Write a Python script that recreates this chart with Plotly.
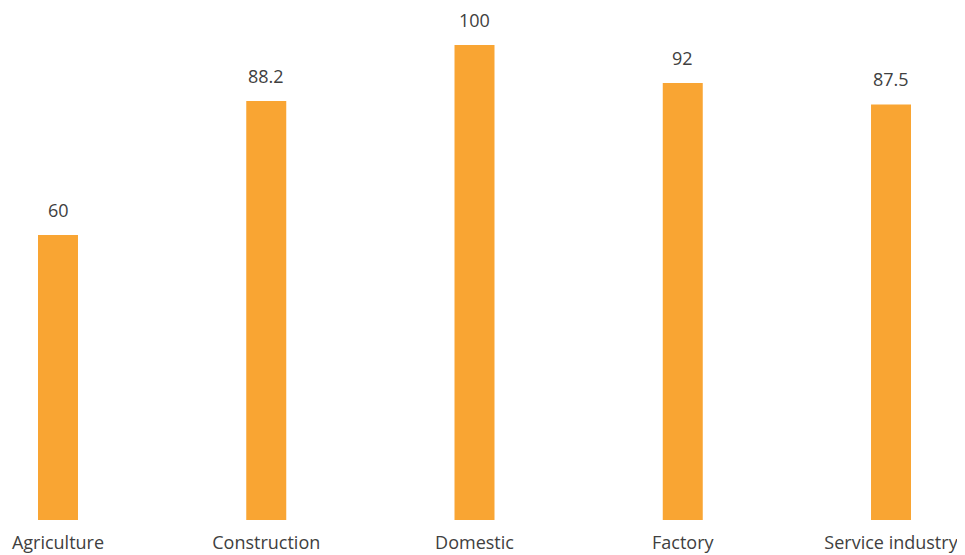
import plotly.graph_objects as go

categories = ["Agriculture", "Construction", "Domestic", "Factory", "Service industry"]
values = [60, 88.2, 100, 92, 87.5]
value_labels = ["60", "88.2", "100", "92", "87.5"]

BAR_COLOR = "#F9A533"
TEXT_COLOR = "#404040"
FONT = "Open Sans"

fig = go.Figure(
    go.Bar(
        x=categories,
        y=values,
        marker=dict(color=BAR_COLOR, line=dict(width=0)),
        width=0.192,
        hoverinfo="x+y",
    )
)

for c, v, t in zip(categories, values, value_labels):
    fig.add_annotation(
        x=c, y=v, text=t, showarrow=False, yanchor="bottom", yshift=11,
        font=dict(family=FONT, size=18, color=TEXT_COLOR),
    )

fig.update_layout(
    width=957, height=547,
    margin=dict(l=0, r=0, t=0, b=35),
    plot_bgcolor="white", paper_bgcolor="white",
    showlegend=False,
    font=dict(family=FONT, size=18, color=TEXT_COLOR),
    xaxis=dict(
        range=[-0.2401, 4.3553], showgrid=False, zeroline=False, showline=False,
        ticks="", automargin=False, ticklabelstandoff=10,
        tickfont=dict(family=FONT, size=18, color=TEXT_COLOR),
        fixedrange=True,
    ),
    yaxis=dict(
        range=[0, 107.79], visible=False, showgrid=False, zeroline=False, fixedrange=True,
    ),
)

fig.write_html("out.html")
